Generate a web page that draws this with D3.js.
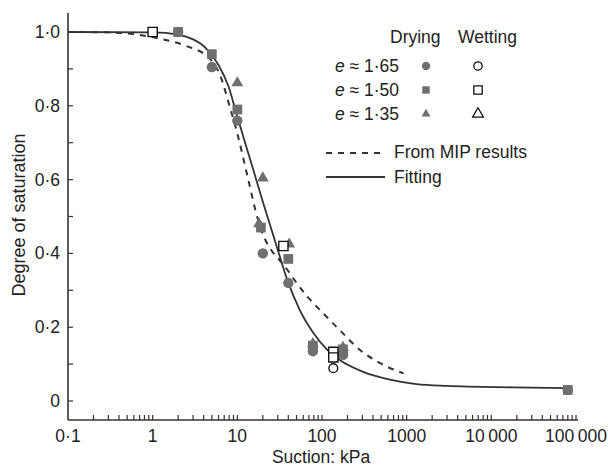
<!DOCTYPE html>
<html>
<head>
<meta charset="utf-8">
<script src="https://cdn.jsdelivr.net/npm/d3@7"></script>
<style>
  html, body { margin: 0; padding: 0; background: #fff; }
  svg { display: block; font-family: "Liberation Sans", Arial, Helvetica, sans-serif; }
</style>
</head>
<body>
<svg id="chart" width="608" height="466"></svg>
<script>
// ---------- data ----------
const xTickValues = [0.1, 1, 10, 100, 1000, 10000, 100000];
const xTickLabels = ["0\u00b71", "1", "10", "100", "1000", "10\u2009000", "100\u2009000"];
const yTickValues = [0, 0.2, 0.4, 0.6, 0.8, 1.0];
const yTickLabels = ["0", "0\u00b72", "0\u00b74", "0\u00b76", "0\u00b78", "1\u00b70"];
const yMinorTicks = [0.1, 0.3, 0.5, 0.7, 0.9];

// drying (filled grey)
const dry165 = [[2, 1.0], [5, 0.905], [10, 0.76], [20, 0.40], [40, 0.32], [78, 0.135], [177, 0.125], [80000, 0.03]];
const dry150 = [[2, 1.0], [5, 0.94], [10, 0.79], [19, 0.47], [40, 0.385], [78, 0.15], [177, 0.14], [80000, 0.03]];
const dry135 = [[10, 0.862], [20, 0.604], [18, 0.48], [41, 0.425], [78, 0.155], [177, 0.145]];
// wetting (open)
const wet165 = [[136, 0.089]];
const wet150 = [[1, 1.0], [35, 0.42], [136, 0.133], [136, 0.118]];
const wet135 = [];

// curves
const mipCurve = [[0.1, 1.0], [0.3, 0.999], [0.6, 0.994], [1.2, 0.982], [2.5, 0.962], [4.7, 0.928], [6.2, 0.885],
  [8.2, 0.795], [10, 0.725], [13, 0.615], [17.6, 0.49], [20, 0.452], [25, 0.41], [32, 0.38], [40, 0.352],
  [50, 0.32], [66, 0.285], [103, 0.238], [162, 0.192], [282, 0.138], [480, 0.103], [920, 0.075]];
const fitCurve = [[0.1, 1.0], [1, 0.999], [2, 0.993], [3, 0.98], [4, 0.962], [5, 0.937], [6, 0.91], [7.8, 0.855],
  [10, 0.77], [15, 0.636], [20, 0.54], [30, 0.41], [38, 0.335], [55, 0.245], [78, 0.186], [114, 0.14],
  [162, 0.111], [306, 0.079], [633, 0.058], [1300, 0.046], [3000, 0.041], [18000, 0.037], [80000, 0.035]];

const legendRows = ["1\u00b765", "1\u00b750", "1\u00b735"];

// ---------- drawing ----------
const svg = d3.select("#chart");
const ink = "#333";
const txt = "#222";
const grey = "#6f6f6f";
const fontSize = 17.5;

const x = d3.scaleLog().domain([0.1, 100000]).range([68, 576]);
const y = d3.scaleLinear().domain([0, 1]).range([401, 32]);
const axisY = 420;   // x-axis baseline
const axisX = 68;    // y-axis position

// axis lines
svg.append("line").attr("x1", axisX).attr("x2", axisX).attr("y1", 13).attr("y2", axisY)
  .attr("stroke", ink).attr("stroke-width", 1.6);
svg.append("line").attr("x1", axisX).attr("x2", 578).attr("y1", axisY).attr("y2", axisY)
  .attr("stroke", ink).attr("stroke-width", 1.6);

// x ticks (inward)
const xMinor = [];
for (let e = -1; e < 5; e++) for (let m = 2; m <= 9; m++) xMinor.push(m * Math.pow(10, e));
const xAll = xMinor.concat(xTickValues.slice(1));
svg.append("g").selectAll("line").data(xAll).join("line")
  .attr("x1", d => x(d)).attr("x2", d => x(d))
  .attr("y1", axisY).attr("y2", axisY - 5)
  .attr("stroke", ink).attr("stroke-width", 1.2);
svg.append("g").selectAll("text").data(xTickValues).join("text")
  .attr("x", d => x(d)).attr("y", 442)
  .attr("text-anchor", "middle").attr("font-size", fontSize).attr("fill", txt)
  .text((d, i) => xTickLabels[i]);

// y ticks (inward)
svg.append("g").selectAll("line").data(yTickValues.concat(yMinorTicks)).join("line")
  .attr("x1", axisX).attr("x2", axisX + 5)
  .attr("y1", d => y(d)).attr("y2", d => y(d))
  .attr("stroke", ink).attr("stroke-width", 1.2);
svg.append("g").selectAll("text").data(yTickValues).join("text")
  .attr("x", 60).attr("y", d => y(d) + 6)
  .attr("text-anchor", "end").attr("font-size", fontSize).attr("fill", txt)
  .text((d, i) => yTickLabels[i]);

// axis titles
svg.append("text").attr("x", 321).attr("y", 463).attr("text-anchor", "middle")
  .attr("font-size", fontSize).attr("fill", txt).text("Suction: kPa");
svg.append("text").attr("transform", "translate(25,215) rotate(-90)").attr("text-anchor", "middle")
  .attr("font-size", 18).attr("fill", txt).text("Degree of saturation");

// curves
const line = d3.line().x(d => x(d[0])).y(d => y(d[1])).curve(d3.curveMonotoneX);
svg.append("path").attr("d", line(mipCurve)).attr("fill", "none")
  .attr("stroke", ink).attr("stroke-width", 2).attr("stroke-dasharray", "6,6");
svg.append("path").attr("d", line(fitCurve)).attr("fill", "none")
  .attr("stroke", ink).attr("stroke-width", 1.8);

// markers
const sym = {
  circle: d3.symbol().type(d3.symbolCircle).size(85),
  square: d3.symbol().type(d3.symbolSquare).size(95),
  triangle: d3.symbol().type(d3.symbolTriangle).size(60),
  ocircle: d3.symbol().type(d3.symbolCircle).size(60),
  osquare: d3.symbol().type(d3.symbolSquare).size(85),
  otriangle: d3.symbol().type(d3.symbolTriangle).size(60)
};
function drawPts(data, s, filled) {
  svg.append("g").selectAll("path").data(data).join("path")
    .attr("transform", d => `translate(${x(d[0])},${y(d[1])})`)
    .attr("d", s)
    .attr("fill", filled ? grey : "#fff")
    .attr("stroke", filled ? "none" : "#111")
    .attr("stroke-width", filled ? 0 : 1.4);
}
drawPts(dry165, sym.circle(), true);
drawPts(dry150, sym.square(), true);
drawPts(dry135, sym.triangle(), true);
drawPts(wet150, sym.osquare(), false);
drawPts(wet165, sym.ocircle(), false);
drawPts(wet135, sym.otriangle(), false);

// legend
const lg = svg.append("g");
lg.append("text").attr("x", 390).attr("y", 43).attr("font-size", fontSize).attr("fill", txt).text("Drying");
lg.append("text").attr("x", 458).attr("y", 43).attr("font-size", fontSize).attr("fill", txt).text("Wetting");
const rowY = [72, 96, 120];
const drySyms = [d3.symbol().type(d3.symbolCircle).size(55)(), d3.symbol().type(d3.symbolSquare).size(55)(), d3.symbol().type(d3.symbolTriangle).size(35)()];
const wetSyms = [d3.symbol().type(d3.symbolCircle).size(55)(), d3.symbol().type(d3.symbolSquare).size(70)(), d3.symbol().type(d3.symbolTriangle).size(50)()];
legendRows.forEach((lab, i) => {
  const t = lg.append("text").attr("x", 335).attr("y", rowY[i]).attr("font-size", fontSize).attr("fill", txt);
  t.append("tspan").attr("font-style", "italic").text("e");
  t.append("tspan").text(" \u2248 " + lab);
  lg.append("path").attr("d", drySyms[i]).attr("transform", `translate(426,${rowY[i] - 6})`).attr("fill", grey);
  lg.append("path").attr("d", wetSyms[i]).attr("transform", `translate(478,${rowY[i] - 6})`)
    .attr("fill", "#fff").attr("stroke", "#111").attr("stroke-width", 1.3);
});
lg.append("line").attr("x1", 326).attr("x2", 385).attr("y1", 153).attr("y2", 153)
  .attr("stroke", ink).attr("stroke-width", 2).attr("stroke-dasharray", "6,6");
lg.append("text").attr("x", 394).attr("y", 158).attr("font-size", fontSize).attr("fill", txt).text("From MIP results");
lg.append("line").attr("x1", 326).attr("x2", 385).attr("y1", 177).attr("y2", 177)
  .attr("stroke", ink).attr("stroke-width", 1.8);
lg.append("text").attr("x", 394).attr("y", 183).attr("font-size", fontSize).attr("fill", txt).text("Fitting");
</script>
</body>
</html>
